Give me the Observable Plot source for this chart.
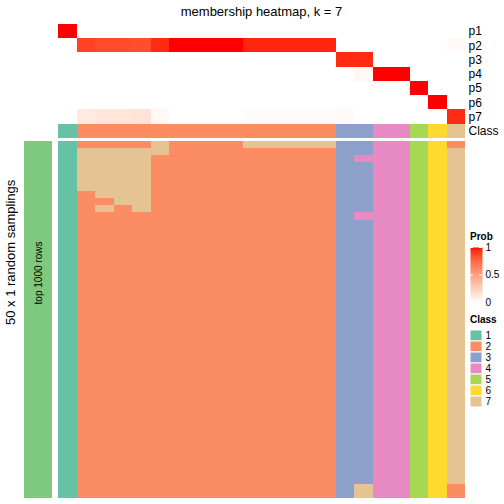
<!DOCTYPE html>
<html><head><meta charset="utf-8">
<script src="https://cdn.jsdelivr.net/npm/d3@7"></script>
<script src="https://cdn.jsdelivr.net/npm/@observablehq/plot@0.6"></script>
<style>
html,body{margin:0;padding:0;background:#fff;width:504px;height:504px;overflow:hidden;font-family:"Liberation Sans",Arial,sans-serif;}
#wrap{position:relative;width:504px;height:504px;overflow:hidden;background:#fff;}
.abs{position:absolute;}
.abs svg{display:block;}
</style></head><body><div id="wrap"></div>
<script>
// ---------------- data ----------------
const title = "membership heatmap, k = 7";
const sideTitle = "50 x 1 random samplings";
const rowAnnoLabel = "top 1000 rows";
const probRows = ["p1","p2","p3","p4","p5","p6","p7"];
const classLevels = [1,2,3,4,5,6,7];
const classColors = ["#66C2A5","#FC8D62","#8DA0CB","#E78AC3","#A6D854","#FFD92F","#E5C494"];
const rowAnnoColor = "#7FC97F";
const probTicks = [0, 0.5, 1];

// 22 samples (columns)
const sampleClass = [1,2,2,2,2,2,2,2,2,2,2,2,2,2,2,3,3,4,4,5,6,7];
const p1 = [1,0,0,0,0,0,0,0,0,0,0,0,0,0,0,0,0,0,0,0,0,0];
const p2 = [0,0.89,0.86,0.86,0.85,0.95,1,1,1,1,0.96,0.96,0.96,0.96,0.96,0,0,0,0,0,0,0.03];
const p3 = [0,0,0,0,0,0,0,0,0,0,0,0,0,0,0,0.95,0.95,0,0,0,0,0];
const p4 = [0,0,0,0,0,0,0,0,0,0,0,0,0,0,0,0,0.04,1,1,0,0,0];
const p5 = [0,0,0,0,0,0,0,0,0,0,0,0,0,0,0,0,0,0,0,1,0,0];
const p6 = [0,0,0,0,0,0,0,0,0,0,0,0,0,0,0,0,0,0,0,0,1,0];
const p7 = [0,0.11,0.14,0.14,0.15,0.04,0,0,0,0,0.02,0.02,0.02,0.02,0.02,0.03,0,0,0,0,0,0.95];

// 50 random samplings (rows) x 22 samples: predicted class per cell
const samplingRows = [
"1222272222777773344562",
"1777772222222223344567",
"1777722222222223444567",
"1777722222222223344567",
"1777722222222223344567",
"1777722222222223344567",
"1777722222222223344567",
"1277722222222223344567",
"1227722222222223344567",
"1272722222222223344567",
"1222222222222223444567",
"1222222222222223344567","1222222222222223344567","1222222222222223344567",
"1222222222222223344567","1222222222222223344567","1222222222222223344567",
"1222222222222223344567","1222222222222223344567","1222222222222223344567",
"1222222222222223344567","1222222222222223344567","1222222222222223344567",
"1222222222222223344567","1222222222222223344567","1222222222222223344567",
"1222222222222223344567","1222222222222223344567","1222222222222223344567",
"1222222222222223344567","1222222222222223344567","1222222222222223344567",
"1222222222222223344567","1222222222222223344567","1222222222222223344567",
"1222222222222223344567","1222222222222223344567","1222222222222223344567",
"1222222222222223344567","1222222222222223344567","1222222222222223344567",
"1222222222222223344567","1222222222222223344567","1222222222222223344567",
"1222222222222223344567","1222222222222223344567","1222222222222223344567",
"1222222222222223344567",
"1222222222222223744562",
"1222222222222223744562"
];

// ---------------- build tables ----------------
const samples = sampleClass.map((_, i) => i);
const probArrays = [p1,p2,p3,p4,p5,p6,p7];
const probData = [];
probRows.forEach((r, k) => probArrays[k].forEach((v, i) => probData.push({sample: i, row: r, value: v})));
const annoData = sampleClass.map((c, i) => ({sample: i, row: "Class", cls: c}));
const rowIdx = samplingRows.map((_, j) => j);
const cellData = [];
samplingRows.forEach((s, j) => s.split("").forEach((ch, i) => cellData.push({sample: i, row: j, cls: +ch})));

const probColor = {type: "linear", domain: [0, 1], range: ["white", "red"], interpolate: "lab"};
const classColor = {type: "ordinal", domain: classLevels, range: classColors};
const font = "Liberation Sans, Arial, sans-serif";
const wrap = document.getElementById("wrap");
const xBand = {type: "band", domain: samples, padding: 0, round: false, axis: null};

function place(node, left, top) {
  const d = document.createElement("div");
  d.className = "abs";
  d.style.left = left + "px";
  d.style.top = top + "px";
  d.appendChild(node);
  wrap.appendChild(d);
  return d;
}

// title
const t = document.createElement("div");
t.textContent = title;
t.style.cssText = `font:13px ${font};color:#000;white-space:nowrap;width:407px;text-align:center;line-height:15px;`;
place(t, 58, 4);

// side title (vertical, reading bottom to top)
const st = document.createElement("div");
st.textContent = sideTitle;
st.style.cssText = `font:13px ${font};color:#000;white-space:nowrap;width:16px;height:220px;text-align:center;line-height:16px;writing-mode:vertical-rl;transform:rotate(180deg);`;
place(st, 3, 252 - 110);

// probability rows
place(Plot.plot({
  width: 504, height: 99.5,
  marginLeft: 58, marginRight: 39, marginTop: 0, marginBottom: 0,
  style: {fontSize: "12px", fontFamily: font, color: "#000", background: "transparent"},
  x: xBand,
  y: {type: "band", domain: probRows, padding: 0, round: false, axis: "right", tickSize: 0, tickPadding: 3, label: null},
  color: probColor,
  marks: [Plot.cell(probData, {x: "sample", y: "row", fill: "value", shapeRendering: "crispEdges"})]
}), 0, 24);

// class annotation row
place(Plot.plot({
  width: 504, height: 14,
  marginLeft: 58, marginRight: 39, marginTop: 0, marginBottom: 0,
  style: {fontSize: "12px", fontFamily: font, color: "#000", background: "transparent"},
  x: xBand,
  y: {type: "band", domain: ["Class"], padding: 0, round: false, axis: "right", tickSize: 0, tickPadding: 3, label: null},
  color: classColor,
  marks: [Plot.cell(annoData, {x: "sample", y: "row", fill: "cls", shapeRendering: "crispEdges"})]
}), 0, 124);

// main heatmap of samplings
place(Plot.plot({
  width: 504, height: 357,
  marginLeft: 58, marginRight: 39, marginTop: 0, marginBottom: 0,
  style: {background: "transparent"},
  x: xBand,
  y: {type: "band", domain: rowIdx, padding: 0, round: false, axis: null},
  color: classColor,
  marks: [Plot.cell(cellData, {x: "sample", y: "row", fill: "cls", shapeRendering: "crispEdges"})]
}), 0, 141);

// row annotation bar
place(Plot.plot({
  width: 28, height: 357,
  margin: 0,
  style: {fontSize: "10px", fontFamily: font, color: "#000", background: "transparent"},
  x: {type: "band", domain: [rowAnnoLabel], padding: 0, round: false, axis: null},
  y: {type: "band", domain: rowIdx, padding: 0, round: false, axis: null},
  marks: [
    Plot.cell(rowIdx, {x: () => rowAnnoLabel, y: d => d, fill: rowAnnoColor, shapeRendering: "crispEdges"}),
    Plot.text([rowAnnoLabel], {frameAnchor: "middle", text: d => d, rotate: -90, dy: -47, fill: "#000", fontSize: 10})
  ]
}), 24, 141);

// Prob legend
const pt = document.createElement("div");
pt.textContent = "Prob";
pt.style.cssText = `font:bold 10px ${font};color:#000;white-space:nowrap;line-height:12px;`;
place(pt, 470, 231);
place(Plot.plot({
  width: 34, height: 55,
  marginLeft: 0, marginRight: 22, marginTop: 0, marginBottom: 0,
  style: {fontSize: "10px", fontFamily: font, color: "#000", background: "transparent", overflow: "visible"},
  x: {domain: [0, 1], axis: null},
  y: {domain: [0, 1], axis: "right", ticks: probTicks, tickFormat: d => String(d), tickSize: 0, tickPadding: 3, label: null},
  color: probColor,
  marks: [
    Plot.raster({fill: (x, y) => y, x1: 0, x2: 1, y1: 0, y2: 1, width: 4, height: 120, imageRendering: "auto"}),
    Plot.tickY(probTicks.filter(v => v > 0), {y: d => d, stroke: "white", strokeWidth: 1, strokeDasharray: "3,6,3"})
  ]
}), 470, 246.5);

// Class legend
const ct = document.createElement("div");
ct.textContent = "Class";
ct.style.cssText = `font:bold 10px ${font};color:#000;white-space:nowrap;line-height:12px;`;
place(ct, 470, 314);
place(Plot.plot({
  width: 34, height: 77,
  marginLeft: 0, marginRight: 22, marginTop: 0, marginBottom: 0,
  style: {fontSize: "10px", fontFamily: font, color: "#000", background: "transparent", overflow: "visible"},
  x: {type: "band", domain: ["c"], padding: 0, round: false, axis: null},
  y: {type: "band", domain: classLevels, padding: 0, round: false, axis: "right", tickSize: 0, tickPadding: 3, label: null},
  color: classColor,
  marks: [Plot.cell(classLevels, {x: () => "c", y: d => d, fill: d => d, stroke: "white", strokeWidth: 1})]
}), 470, 330);
</script></body></html>
